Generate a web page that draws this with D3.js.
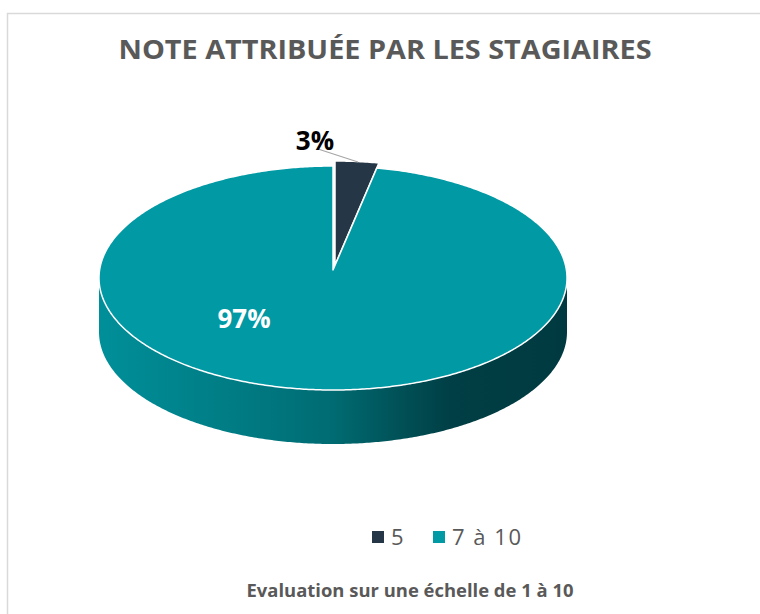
<!DOCTYPE html>
<html>
<head>
<meta charset="utf-8">
<script src="https://cdn.jsdelivr.net/npm/d3@7"></script>
<style>
  body { margin: 0; background: #fff; }
  svg { display: block; font-family: "Open Sans", "Noto Sans", sans-serif; }
</style>
</head>
<body>
<svg id="chart" width="760" height="614"></svg>
<script>
// data
const categories = ["5", "7 à 10"];
const values = [3, 97];
const labels = ["3%", "97%"];
const colors = ["#253746", "#0099a4"];

const svg = d3.select("#chart");

// chart border
svg.append("rect")
  .attr("x", 7.5).attr("y", 13.5)
  .attr("width", 800).attr("height", 700)
  .attr("fill", "none")
  .attr("stroke", "#d9d9d9")
  .attr("stroke-width", 1.5);

// title
svg.append("text")
  .attr("x", 385).attr("y", 59)
  .attr("text-anchor", "middle")
  .attr("fill", "#595959")
  .style("font-size", "26px")
  .style("font-weight", "bold")
  .attr("textLength", 533)
  .attr("lengthAdjust", "spacingAndGlyphs")
  .text("NOTE ATTRIBUÉE PAR LES STAGIAIRES");

// pie geometry (ellipse for 3d look)
const cx = 333, cy = 278, rx = 234, ry = 112, depth = 54;
const px = a => cx + rx * Math.sin(a);
const py = a => cy - ry * Math.cos(a);

const pie = d3.pie().sort(null).value(d => d);
const arcs = pie(values);

const defs = svg.append("defs");
const grad = defs.append("linearGradient")
  .attr("id", "sideGrad")
  .attr("gradientUnits", "userSpaceOnUse")
  .attr("x1", cx - rx).attr("x2", cx + rx)
  .attr("y1", 0).attr("y2", 0);
[["0%", "#008f99"], ["30%", "#007b83"], ["50%", "#006b72"], ["62%", "#00555b"], ["75%", "#003f45"], ["100%", "#003a40"]]
  .forEach(([o, c]) => grad.append("stop").attr("offset", o).attr("stop-color", c));

function arcPoints(a0, a1, dy) {
  const n = Math.max(2, Math.ceil((a1 - a0) / 0.01));
  return d3.range(n + 1).map(i => {
    const a = a0 + (a1 - a0) * i / n;
    return [px(a), py(a) + dy];
  });
}

// explode offset for the small slice
const explode = [[2, -5], [0, 0]];

const g = svg.append("g");

// side walls (front half only: angles between PI/2 and 3PI/2)
arcs.forEach((d, i) => {
  const a0 = Math.max(d.startAngle, Math.PI / 2);
  const a1 = Math.min(d.endAngle, 3 * Math.PI / 2);
  if (a1 <= a0) return;
  const top = arcPoints(a0, a1, 0);
  const bot = arcPoints(a0, a1, depth).reverse();
  g.append("path")
    .attr("transform", `translate(${explode[i]})`)
    .attr("d", d3.line()(top.concat(bot)) + "Z")
    .attr("fill", i === 1 ? "url(#sideGrad)" : colors[i]);
});

// top faces
arcs.forEach((d, i) => {
  const pts = [[cx, cy - 8]].concat(arcPoints(d.startAngle, d.endAngle, 0));
  g.append("path")
    .attr("transform", `translate(${explode[i]})`)
    .attr("d", d3.line()(pts) + "Z")
    .attr("fill", colors[i])
    .attr("stroke", "#fff")
    .attr("stroke-width", 1.5)
    .attr("stroke-linejoin", "round");
});

// leader line for small slice label
svg.append("line")
  .attr("x1", 318).attr("y1", 149)
  .attr("x2", 358).attr("y2", 162)
  .attr("stroke", "#a6a6a6")
  .attr("stroke-width", 1.2);

// data labels
svg.append("text")
  .attr("x", 315).attr("y", 150)
  .attr("text-anchor", "middle")
  .attr("fill", "#000")
  .style("font-size", "26px")
  .style("font-weight", "bold")
  .text(labels[0]);

svg.append("text")
  .attr("x", 244).attr("y", 328)
  .attr("text-anchor", "middle")
  .attr("fill", "#fff")
  .style("font-size", "26px")
  .style("font-weight", "bold")
  .text(labels[1]);

// legend
const legendX = [372, 433];
const legend = svg.append("g");
categories.forEach((c, i) => {
  legend.append("rect")
    .attr("x", legendX[i]).attr("y", 531)
    .attr("width", 12).attr("height", 12)
    .attr("fill", colors[i]);
  legend.append("text")
    .attr("x", legendX[i] + 19).attr("y", 545)
    .attr("fill", "#595959")
    .style("font-size", "22px")
    .attr("textLength", i === 1 ? 69 : null)
    .text(c);
});

// footer note
svg.append("text")
  .attr("x", 410).attr("y", 597)
  .attr("text-anchor", "middle")
  .attr("fill", "#595959")
  .style("font-size", "17px")
  .style("font-weight", "bold")
  .attr("textLength", 327)
  .attr("lengthAdjust", "spacingAndGlyphs")
  .text("Evaluation sur une échelle de 1 à 10");
</script>
</body>
</html>
